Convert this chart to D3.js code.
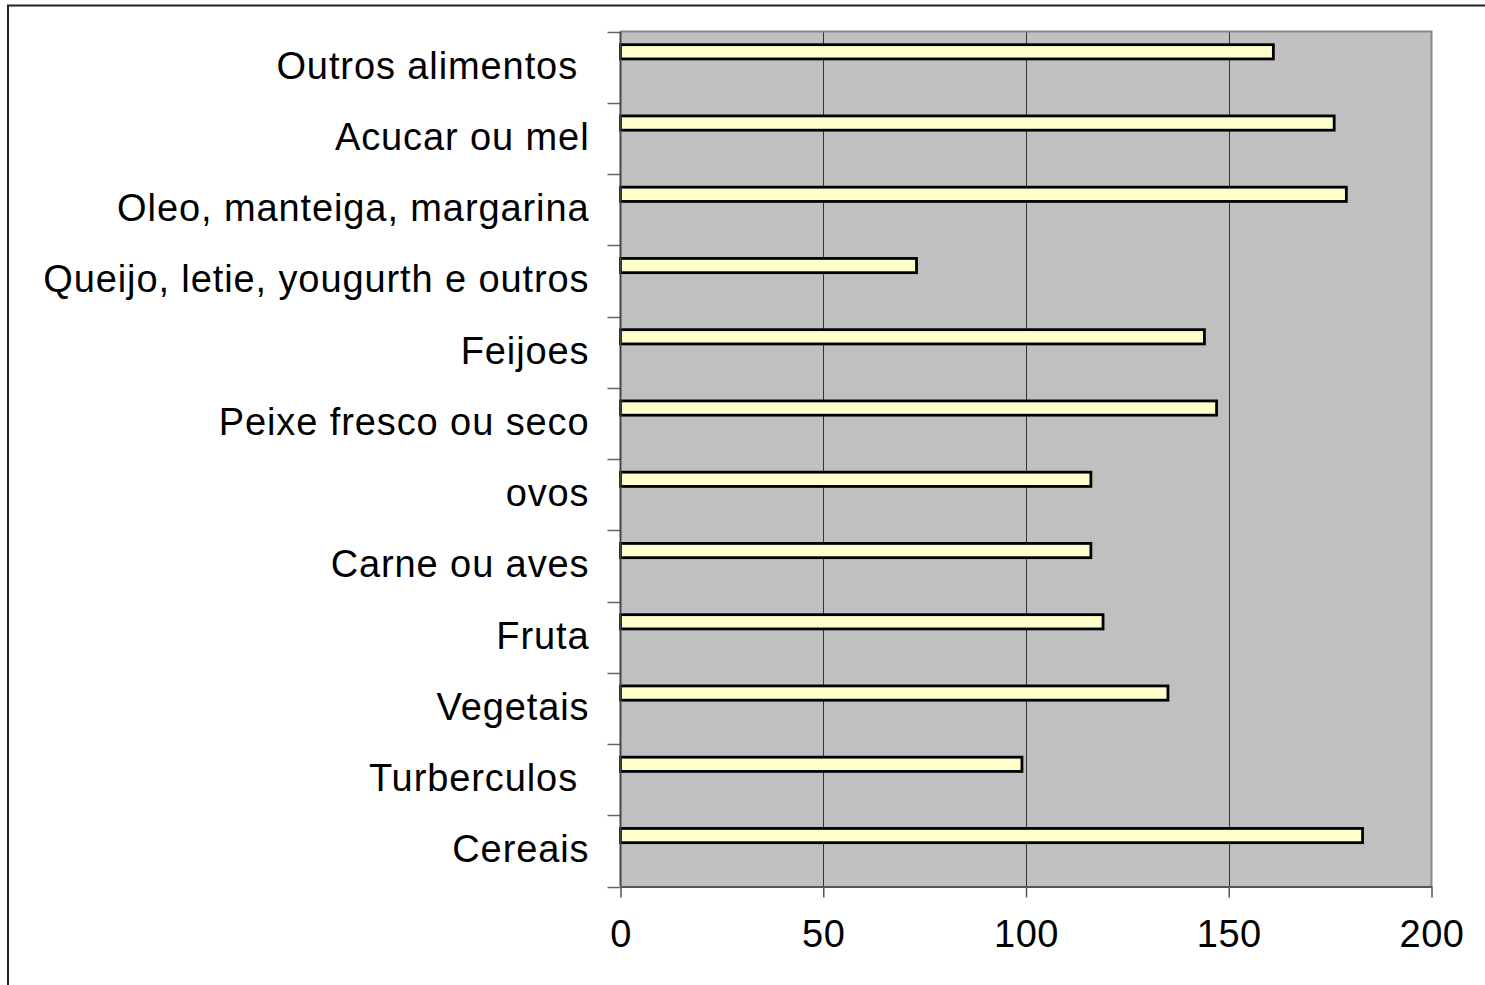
<!DOCTYPE html>
<html>
<head>
<meta charset="utf-8">
<script src="https://cdn.jsdelivr.net/npm/d3@7"></script>
<style>
  html, body { margin: 0; padding: 0; background: #fff; }
  svg { display: block; }
  text { font-family: "Liberation Sans", Arial, sans-serif; }
</style>
</head>
<body>
<script>
const categories = [
  "Outros alimentos ",
  "Acucar ou mel",
  "Oleo, manteiga, margarina",
  "Queijo, letie, yougurth e outros",
  "Feijoes",
  "Peixe fresco ou seco",
  "ovos",
  "Carne ou aves",
  "Fruta",
  "Vegetais",
  "Turberculos ",
  "Cereais"
];
const values = [161, 176, 179, 73, 144, 147, 116, 116, 119, 135, 99, 183];
const xTicks = [0, 50, 100, 150, 200];

const W = 1485, H = 985;
const pL = 620.5, pR = 1431.5, pT = 31.5, pB = 886.5;

const svg = d3.select("body").append("svg").attr("width", W).attr("height", H);

// outer frame
svg.append("path")
  .attr("d", `M8,${H} L8,5.5 L${W},5.5`)
  .attr("fill", "none").attr("stroke", "#222").attr("stroke-width", 2);

const x = d3.scaleLinear().domain([0, 200]).range([pL, pR]);
const y = d3.scaleBand().domain(categories).range([pT, pB]).paddingInner(0).paddingOuter(0);
const bw = y.bandwidth();

// plot background
svg.append("rect")
  .attr("x", pL).attr("y", pT)
  .attr("width", pR - pL).attr("height", pB - pT)
  .attr("fill", "#C0C0C0");

// grid lines
svg.append("g").selectAll("line")
  .data(xTicks.filter(t => t > 0 && t < 200))
  .join("line")
  .attr("x1", d => Math.round(x(d)) + 0.5).attr("x2", d => Math.round(x(d)) + 0.5)
  .attr("y1", pT).attr("y2", pB)
  .attr("stroke", "#333").attr("stroke-width", 1);

// plot border top/right
svg.append("path")
  .attr("d", `M${pL},${pT} L${pR},${pT} L${pR},${pB}`)
  .attr("fill", "none").attr("stroke", "#888").attr("stroke-width", 2);

// bars
svg.append("g").selectAll("rect")
  .data(categories.map((c, i) => ({c, v: values[i]})))
  .join("rect")
  .attr("x", x(0))
  .attr("y", d => y(d.c) + bw * 0.185)
  .attr("width", d => x(d.v) - x(0))
  .attr("height", bw * 0.2)
  .attr("fill", "#FFFFCC")
  .attr("stroke", "#000")
  .attr("stroke-width", 2.8);

// y axis
const yAxis = d3.axisLeft(y).tickSize(0).tickPadding(31).tickFormat(d => d);
const gy = svg.append("g").attr("transform", `translate(${pL},0)`).call(yAxis);
gy.select(".domain").remove();
gy.selectAll("text")
  .attr("font-size", 38)
  .attr("fill", "#000")
  .attr("dy", "0.3em")
  .attr("letter-spacing", 0.9)
  .style("white-space", "pre");
// category boundary ticks
svg.append("g").selectAll("line")
  .data(categories.concat(["__end"]))
  .join("line")
  .attr("x1", pL - 13).attr("x2", pL)
  .attr("y1", (d, i) => Math.round(pT + i * bw) + 0.5)
  .attr("y2", (d, i) => Math.round(pT + i * bw) + 0.5)
  .attr("stroke", "#666").attr("stroke-width", 1.5);
svg.append("line")
  .attr("x1", pL).attr("x2", pL).attr("y1", pT).attr("y2", pB)
  .attr("stroke", "#444").attr("stroke-width", 2);

// x axis
const xAxis = d3.axisBottom(x).tickValues(xTicks).tickSize(11).tickPadding(23).tickSizeOuter(0);
const gx = svg.append("g").attr("transform", `translate(0,${pB})`).call(xAxis);
gx.select(".domain").attr("stroke", "#555").attr("stroke-width", 2);
gx.selectAll(".tick line").attr("stroke", "#555").attr("stroke-width", 1.5);
gx.selectAll("text").attr("font-size", 38).attr("fill", "#000").attr("letter-spacing", 0.5);
</script>
</body>
</html>
